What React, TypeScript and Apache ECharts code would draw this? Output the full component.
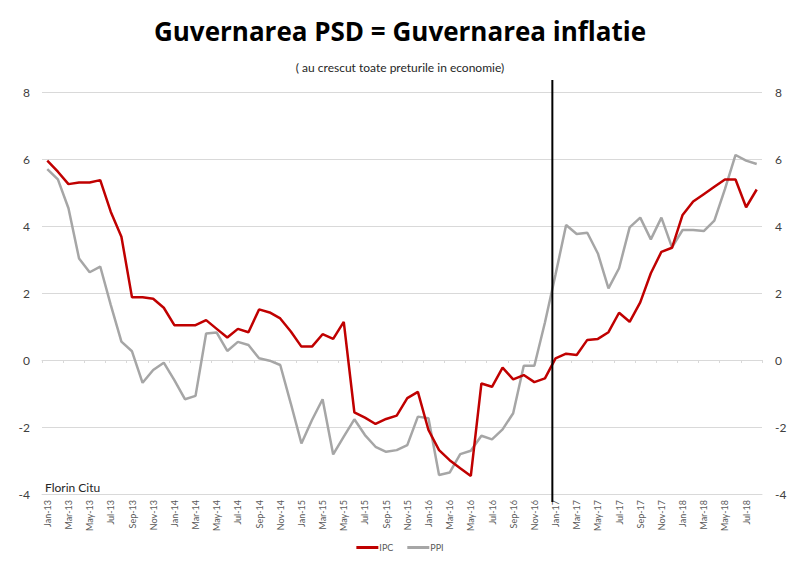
import React, { useEffect, useRef } from "react";
import * as echarts from "echarts";

const months: string[] = [
  "Jan-13","Feb-13","Mar-13","Apr-13","May-13","Jun-13","Jul-13","Aug-13","Sep-13","Oct-13","Nov-13","Dec-13",
  "Jan-14","Feb-14","Mar-14","Apr-14","May-14","Jun-14","Jul-14","Aug-14","Sep-14","Oct-14","Nov-14","Dec-14",
  "Jan-15","Feb-15","Mar-15","Apr-15","May-15","Jun-15","Jul-15","Aug-15","Sep-15","Oct-15","Nov-15","Dec-15",
  "Jan-16","Feb-16","Mar-16","Apr-16","May-16","Jun-16","Jul-16","Aug-16","Sep-16","Oct-16","Nov-16","Dec-16",
  "Jan-17","Feb-17","Mar-17","Apr-17","May-17","Jun-17","Jul-17","Aug-17","Sep-17","Oct-17","Nov-17","Dec-17",
  "Jan-18","Feb-18","Mar-18","Apr-18","May-18","Jun-18","Jul-18","Aug-18",
];

const ipc: number[] = [
  5.95, 5.62, 5.25, 5.3, 5.3, 5.37, 4.42, 3.68, 1.87, 1.87, 1.83, 1.56,
  1.04, 1.04, 1.04, 1.19, 0.93, 0.67, 0.93, 0.83, 1.51, 1.42, 1.24, 0.85,
  0.4, 0.4, 0.77, 0.63, 1.14, -1.56, -1.72, -1.91, -1.76, -1.66, -1.14, -0.95,
  -2.09, -2.69, -2.99, -3.23, -3.46, -0.7, -0.8, -0.23, -0.58, -0.45, -0.66, -0.55,
  0.05, 0.19, 0.15, 0.6, 0.63, 0.83, 1.41, 1.14, 1.72, 2.59, 3.23, 3.35,
  4.33, 4.73, 4.95, 5.17, 5.39, 5.39, 4.56, 5.09,
];

const ppi: number[] = [
  5.7, 5.39, 4.53, 3.03, 2.62, 2.79, 1.64, 0.55, 0.26, -0.68, -0.3, -0.08,
  -0.6, -1.17, -1.07, 0.79, 0.82, 0.27, 0.54, 0.45, 0.05, -0.02, -0.15, -1.3,
  -2.49, -1.79, -1.17, -2.82, -2.29, -1.77, -2.24, -2.59, -2.74, -2.69, -2.54, -1.69,
  -1.74, -3.43, -3.36, -2.81, -2.71, -2.26, -2.37, -2.07, -1.59, -0.17, -0.17, 1.12,
  2.55, 4.03, 3.76, 3.8, 3.18, 2.14, 2.74, 3.96, 4.25, 3.6, 4.25, 3.36,
  3.88, 3.88, 3.85, 4.16, 5.1, 6.12, 5.95, 5.85,
];

const markerMonth = "Jan-17";
const markerTop = 8.36;
const markerBottom = -4.24;
const markerBandOffset = -0.3;

const FONT = "'Open Sans', Lato, sans-serif";
const FONT2 = "Lato, 'Open Sans', sans-serif";

export default function App() {
  const ref = useRef<HTMLDivElement>(null);
  useEffect(() => {
    if (!ref.current) return;
    const chart = echarts.init(ref.current, undefined, { renderer: "svg" });
    chart.setOption({
      animation: false,
      backgroundColor: "#ffffff",
      textStyle: { fontFamily: FONT2 },
      title: [
        {
          text: "Guvernarea PSD = Guvernarea inflatie",
          left: "center",
          top: 13,
          textStyle: { fontFamily: FONT, fontSize: 26, fontWeight: "bold", color: "#000000" },
        },
        {
          text: "( au crescut toate preturile in economie)",
          left: "center",
          top: 56,
          textStyle: { fontFamily: FONT2, fontSize: 12, fontWeight: "normal", color: "#262626" },
        },
        {
          text: "Florin Citu",
          left: 40,
          top: 476,
          textStyle: { fontFamily: FONT2, fontSize: 12, fontWeight: "normal", color: "#262626" },
        },
      ],
      legend: {
        bottom: 6,
        left: "center",
        itemWidth: 22,
        itemHeight: 3,
        itemGap: 14,
        icon: "rect",
        textStyle: { fontFamily: FONT2, fontSize: 9, color: "#595959", padding: [0, 0, 0, -4] },
        data: ["IPC", "PPI"],
      },
      grid: { left: 42, right: 38, top: 92, bottom: 69, containLabel: false },
      xAxis: [
        {
          type: "category",
          data: months,
          boundaryGap: true,
          position: "bottom",
          axisLine: { show: true, onZero: false, lineStyle: { color: "#d9d9d9", width: 1 } },
          axisTick: { show: false },
          axisLabel: {
            rotate: 90,
            interval: 1,
            fontSize: 9,
            color: "#595959",
            margin: 6,
            fontFamily: FONT2,
          },
          splitLine: { show: false },
        },
        {
          type: "category",
          data: months,
          boundaryGap: true,
          position: "top",
          axisLine: { show: true, onZero: true, lineStyle: { color: "#d9d9d9", width: 1 } },
          axisTick: { show: true, inside: true, length: 3, interval: 1, lineStyle: { color: "#d9d9d9" } },
          axisLabel: { show: false },
          splitLine: { show: false },
        },
      ],
      yAxis: [
        {
          type: "value",
          min: -4,
          max: 8,
          interval: 2,
          position: "left",
          axisLine: { show: false },
          axisTick: { show: false },
          axisLabel: { fontSize: 12, color: "#404040", margin: 12, fontFamily: FONT2 },
          splitLine: { show: true, lineStyle: { color: "#d9d9d9", width: 1 } },
        },
        {
          type: "value",
          min: -4,
          max: 8,
          interval: 2,
          position: "right",
          axisLine: { show: false },
          axisTick: { show: false },
          axisLabel: { fontSize: 12, color: "#404040", margin: 13, fontFamily: FONT2 },
          splitLine: { show: false },
        },
      ],
      series: [
        {
          name: "IPC",
          type: "line",
          data: ipc,
          xAxisIndex: 0,
          yAxisIndex: 0,
          showSymbol: false,
          symbol: "none",
          lineStyle: { color: "#C00000", width: 2.5 },
          itemStyle: { color: "#C00000" },
          z: 3,
        },
        {
          name: "PPI",
          type: "line",
          data: ppi,
          xAxisIndex: 0,
          yAxisIndex: 0,
          showSymbol: false,
          symbol: "none",
          lineStyle: { color: "#A6A6A6", width: 2.5 },
          itemStyle: { color: "#A6A6A6" },
          z: 2,
        },
      ],
    });

    const idx = months.indexOf(markerMonth);
    const xc = chart.convertToPixel({ xAxisIndex: 0 }, markerMonth) as number;
    const xn = chart.convertToPixel({ xAxisIndex: 0 }, months[idx + 1]) as number;
    const x = xc + (xn - xc) * markerBandOffset;
    const y1 = chart.convertToPixel({ yAxisIndex: 0 }, markerTop) as number;
    const y2 = chart.convertToPixel({ yAxisIndex: 0 }, markerBottom) as number;
    chart.setOption({
      graphic: [
        {
          type: "line",
          z: 100,
          silent: true,
          shape: { x1: x, y1, x2: x, y2 },
          style: { stroke: "#000000", lineWidth: 2 },
        },
      ],
    });
    return () => chart.dispose();
  }, []);
  return <div ref={ref} style={{ width: 800, height: 563, margin: -8 }} />;
}
